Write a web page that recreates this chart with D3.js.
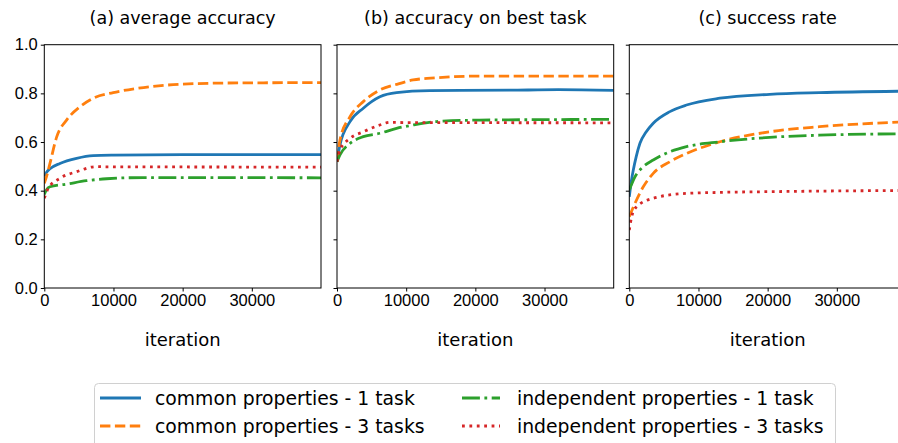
<!DOCTYPE html>
<html>
<head>
<meta charset="utf-8">
<script src="https://cdn.jsdelivr.net/npm/d3@7"></script>
<style>
  body { margin: 0; background: #fff; }
  svg { font-family: "DejaVu Sans", sans-serif; }
  .tick text { font-size: 16.5px; fill: #000; }
  .tick line { stroke: #000; stroke-width: 1; }
  .domain { display: none; }
  .title { font-size: 17.5px; text-anchor: middle; }
  .axisLabel { font-size: 18px; text-anchor: middle; }
  .legend { font-size: 18.8px; dominant-baseline: central; }
  .line { fill: none; stroke-width: 2.8; }
</style>
</head>
<body>
<script>
// panel titles, ticks, legend labels
const panelTitles = ["(a) average accuracy", "(b) accuracy on best task", "(c) success rate"];
const xTicks = [0, 10000, 20000, 30000];
const yTicks = [0, 0.2, 0.4, 0.6, 0.8, 1.0];
const seriesNames = ["common properties - 1 task", "common properties - 3 tasks",
                     "independent properties - 1 task", "independent properties - 3 tasks"];
const colors = ["#1f77b4", "#ff7f0e", "#2ca02c", "#d62728"];
const dashes = [null, "10.4,4.5", "17.9,4.5,2.8,4.5", "2.8,4.6"];

// (a) average accuracy  [iteration, value]
const accCommon1 = [[0,0.46],[300,0.475],[820,0.49],[2260,0.512],[4670,0.533],[7070,0.544],[10000,0.546],[20000,0.548],[40000,0.548]];
const accCommon3 = [[0,0.43],[340,0.46],[820,0.512],[1780,0.62],[3220,0.69],[5150,0.745],[7070,0.78],[9960,0.803],[13300,0.82],[20060,0.838],[28000,0.843],[40000,0.844]];
const accIndep1  = [[0,0.385],[300,0.403],[820,0.416],[3220,0.427],[6100,0.441],[9000,0.449],[14300,0.454],[40000,0.453]];
const accIndep3  = [[0,0.369],[580,0.41],[2260,0.451],[4670,0.478],[7550,0.499],[9000,0.498],[40000,0.497]];

// (b) accuracy on best task
const bestCommon1 = [[0,0.519],[430,0.588],[1880,0.684],[3800,0.739],[6200,0.786],[8610,0.803],[13400,0.811],[25000,0.813],[32000,0.815],[40000,0.812]];
const bestCommon3 = [[0,0.519],[430,0.608],[1880,0.704],[3800,0.766],[6200,0.814],[8610,0.837],[11000,0.855],[14400,0.864],[20600,0.871],[40000,0.871]];
const bestIndep1  = [[0,0.519],[430,0.547],[1880,0.594],[3800,0.622],[6200,0.636],[8610,0.656],[11000,0.67],[14400,0.684],[20600,0.69],[40000,0.693]];
const bestIndep3  = [[0,0.519],[430,0.567],[1880,0.615],[3800,0.642],[6200,0.67],[7650,0.681],[10000,0.68],[40000,0.679]];

// (c) success rate
const succCommon1 = [[0,0.375],[300,0.44],[580,0.485],[1000,0.54],[1540,0.595],[2400,0.64],[3460,0.677],[5870,0.725],[8270,0.752],[13100,0.78],[20300,0.796],[27500,0.803],[40000,0.809]];
const succCommon3 = [[0,0.293],[820,0.348],[2020,0.416],[3460,0.471],[5870,0.519],[8270,0.553],[13100,0.601],[20300,0.642],[27500,0.663],[40000,0.683]];
const succIndep1  = [[0,0.403],[820,0.457],[2020,0.499],[3460,0.526],[5870,0.56],[8270,0.581],[13100,0.601],[20300,0.619],[27500,0.628],[40000,0.634]];
const succIndep3  = [[0,0.238],[340,0.293],[1060,0.334],[3460,0.369],[8270,0.389],[13100,0.393],[20300,0.396],[40000,0.401]];

const panels = [
  [accCommon1, accCommon3, accIndep1, accIndep3],
  [bestCommon1, bestCommon3, bestIndep1, bestIndep3],
  [succCommon1, succCommon3, succIndep1, succIndep3]
];

let W = 898, H = 443;
let panelLeft = [44.3, 337, 629.3];
let panelW = 276.7;
let plotTop = 44.7, plotBottom = 288;

let svg = d3.select("body").append("svg")
  .attr("width", W)
  .attr("height", H);

let yScale = d3.scaleLinear()
  .domain([0, 1])
  .range([plotBottom, plotTop]);

panels.forEach(function(series, p) {
  let x0 = panelLeft[p];
  let xScale = d3.scaleLinear()
    .domain([0, 40000])
    .range([x0, x0 + panelW]);

  let line = d3.line()
    .curve(d3.curveMonotoneX)
    .x(function(d) { return xScale(d[0]); })
    .y(function(d) { return yScale(d[1]); });

  svg.append("clipPath")
    .attr("id", "clip" + p)
    .append("rect")
    .attr("x", x0).attr("y", plotTop)
    .attr("width", panelW).attr("height", plotBottom - plotTop);

  let g = svg.append("g").attr("clip-path", "url(#clip" + p + ")");
  series.forEach(function(s, i) {
    g.append("path")
      .datum(s)
      .attr("class", "line")
      .attr("stroke", colors[i])
      .attr("stroke-dasharray", dashes[i])
      .attr("d", line);
  });

  // axes
  svg.append("g")
    .attr("transform", "translate(0," + plotBottom + ")")
    .call(d3.axisBottom(xScale).tickValues(xTicks).tickSize(3.5).tickPadding(3).tickFormat(d3.format("d")));

  svg.append("g")
    .attr("transform", "translate(" + x0 + ",0)")
    .call(d3.axisLeft(yScale).tickValues(yTicks).tickSize(3.5).tickPadding(3)
      .tickFormat(p == 0 ? d3.format(".1f") : ""));

  // spines
  svg.append("rect")
    .attr("x", x0).attr("y", plotTop)
    .attr("width", panelW).attr("height", plotBottom - plotTop)
    .attr("fill", "none")
    .attr("stroke", "#000")
    .attr("stroke-width", 1);

  svg.append("text")
    .attr("class", "title")
    .attr("x", x0 + panelW / 2)
    .attr("y", 24)
    .text(panelTitles[p]);

  svg.append("text")
    .attr("class", "axisLabel")
    .attr("x", x0 + panelW / 2)
    .attr("y", 346)
    .text("iteration");
});

// legend
svg.append("rect")
  .attr("x", 94.5).attr("y", 383.5)
  .attr("width", 741).attr("height", 70)
  .attr("rx", 4)
  .attr("fill", "#fff")
  .attr("stroke", "#d0d0d0")
  .attr("stroke-width", 1);

let legX = [[100, 141, 155], [462, 500, 517]];
let legY = [398, 426];
seriesNames.forEach(function(name, i) {
  let col = Math.floor(i / 2), row = i % 2;
  svg.append("line")
    .attr("x1", legX[col][0]).attr("x2", legX[col][1])
    .attr("y1", legY[row]).attr("y2", legY[row])
    .attr("stroke", colors[i])
    .attr("stroke-width", 2.8)
    .attr("stroke-dasharray", dashes[i]);
  svg.append("text")
    .attr("class", "legend")
    .attr("x", legX[col][2])
    .attr("y", legY[row])
    .text(name);
});
</script>
</body>
</html>
